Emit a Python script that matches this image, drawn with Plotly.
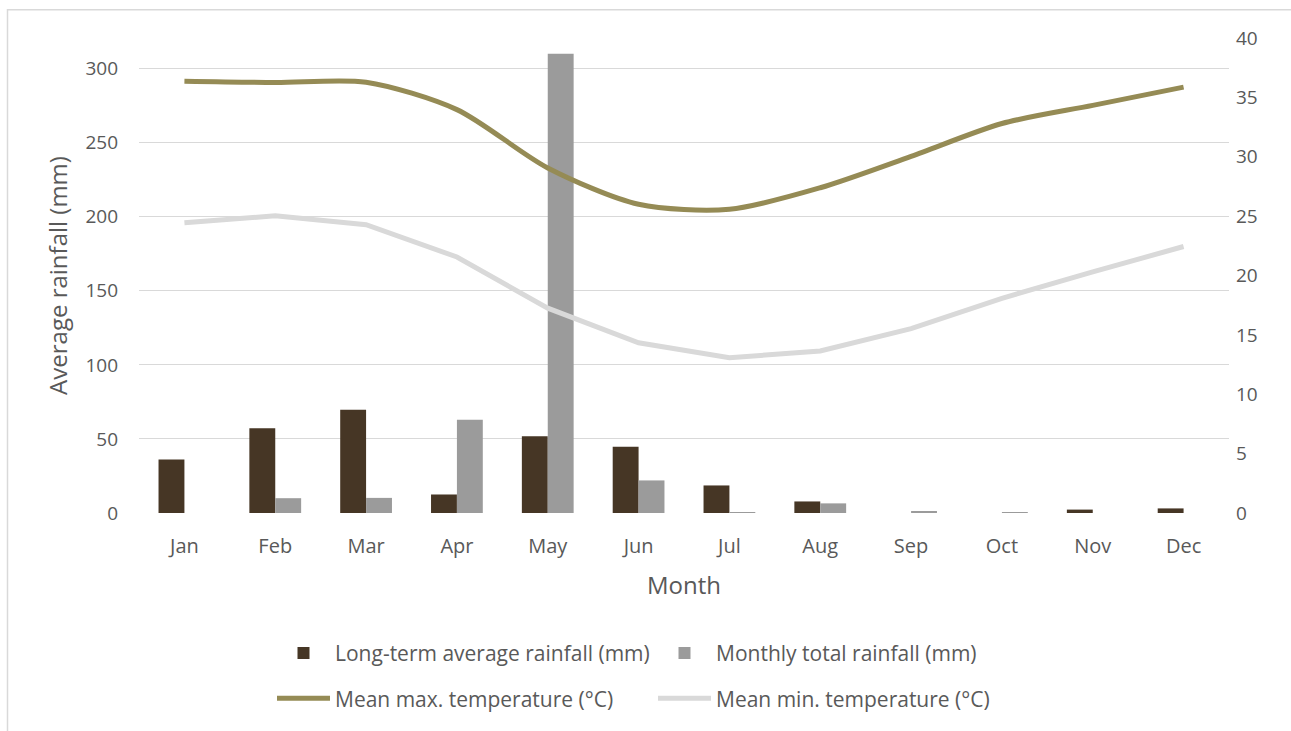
import plotly.graph_objects as go

months = ["Jan", "Feb", "Mar", "Apr", "May", "Jun", "Jul", "Aug", "Sep", "Oct", "Nov", "Dec"]
long_term_rain = [36.1, 57.2, 69.7, 12.5, 51.9, 44.8, 18.6, 7.8, 0.0, 0.0, 2.3, 3.1]
monthly_rain = [0.0, 10.0, 10.2, 63.0, 310.0, 22.0, 0.3, 6.5, 1.2, 0.5, 0.0, 0.0]
max_temp = [36.36, 36.25, 36.28, 33.97, 29.06, 26.0, 25.58, 27.39, 30.03, 32.8, 34.33, 35.86]
min_temp = [24.44, 25.03, 24.28, 21.56, 17.25, 14.33, 13.08, 13.64, 15.53, 18.08, 20.3, 22.44]

FONT = "Open Sans"
TXT = "#595959"

fig = go.Figure()
fig.add_trace(go.Bar(x=months, y=long_term_rain, name="Long-term average rainfall (mm)",
                     marker=dict(color="#463625", line=dict(width=0)), yaxis="y", legend="legend"))
fig.add_trace(go.Bar(x=months, y=monthly_rain, name="Monthly total rainfall (mm)",
                     marker=dict(color="#9b9b9b", line=dict(width=0)), yaxis="y", legend="legend"))
fig.add_trace(go.Scatter(x=months, y=max_temp, name="Mean max. temperature (°C)", mode="lines",
                         line=dict(color="#958b55", width=5, shape="spline", smoothing=0.8),
                         yaxis="y2", legend="legend2"))
fig.add_trace(go.Scatter(x=months, y=min_temp, name="Mean min. temperature (°C)", mode="lines",
                         line=dict(color="#d9d9d9", width=5), yaxis="y2", legend="legend2"))

W, H = 1291, 731
L, R, T, B = 139, 62, 38, 212
pw, ph = W - L - R, H - T - B

def px_x(p):
    return (p - L) / pw

def px_y(p):
    return (H - B - p) / ph

leg_common = dict(
    orientation="h", xanchor="left", yanchor="middle",
    entrywidth=313, entrywidthmode="pixels", font=dict(size=21, color=TXT, family=FONT),
    itemwidth=53, bgcolor="rgba(0,0,0,0)",
)

fig.update_layout(
    width=W, height=H,
    margin=dict(l=L, r=R, t=T, b=B, pad=0),
    paper_bgcolor="white", plot_bgcolor="white",
    font=dict(family=FONT, color=TXT, size=18),
    barmode="group", bargap=0.43, bargroupgap=0,
    xaxis=dict(
        type="category", showgrid=False, showline=False, zeroline=False,
        ticks="", tickfont=dict(size=20, color=TXT), ticklabelstandoff=19,
        title=dict(text="Month", font=dict(size=24, color=TXT), standoff=19),
    ),
    yaxis=dict(
        range=[0, 320.7], tickvals=[0, 50, 100, 150, 200, 250, 300],
        showgrid=True, gridcolor="#d9d9d9", gridwidth=1.3, zeroline=False, showline=False,
        ticks="", tickfont=dict(size=19, color=TXT), ticklabelstandoff=20,
        title=dict(text="Average rainfall (mm)", font=dict(size=24, color=TXT), standoff=11),
    ),
    yaxis2=dict(
        range=[0, 40], tickvals=[0, 5, 10, 15, 20, 25, 30, 35, 40],
        overlaying="y", side="right", showgrid=False, zeroline=False, showline=False,
        ticks="", tickfont=dict(size=19, color=TXT), ticklabelstandoff=6,
    ),
    legend=dict(x=px_x(272), y=px_y(661), **leg_common),
    legend2=dict(x=px_x(272), y=px_y(707), **leg_common),
    shapes=[dict(type="path", xref="paper", yref="paper",
                 path=f"M {px_x(7.5)} {px_y(740)} L {px_x(7.5)} {px_y(9.5)} L {px_x(1300)} {px_y(9.5)}",
                 line=dict(color="#d9d9d9", width=1.5))],
)

fig.write_html("out.html", config={"displayModeBar": False},
               post_script="document.body.style.margin='0px';")
